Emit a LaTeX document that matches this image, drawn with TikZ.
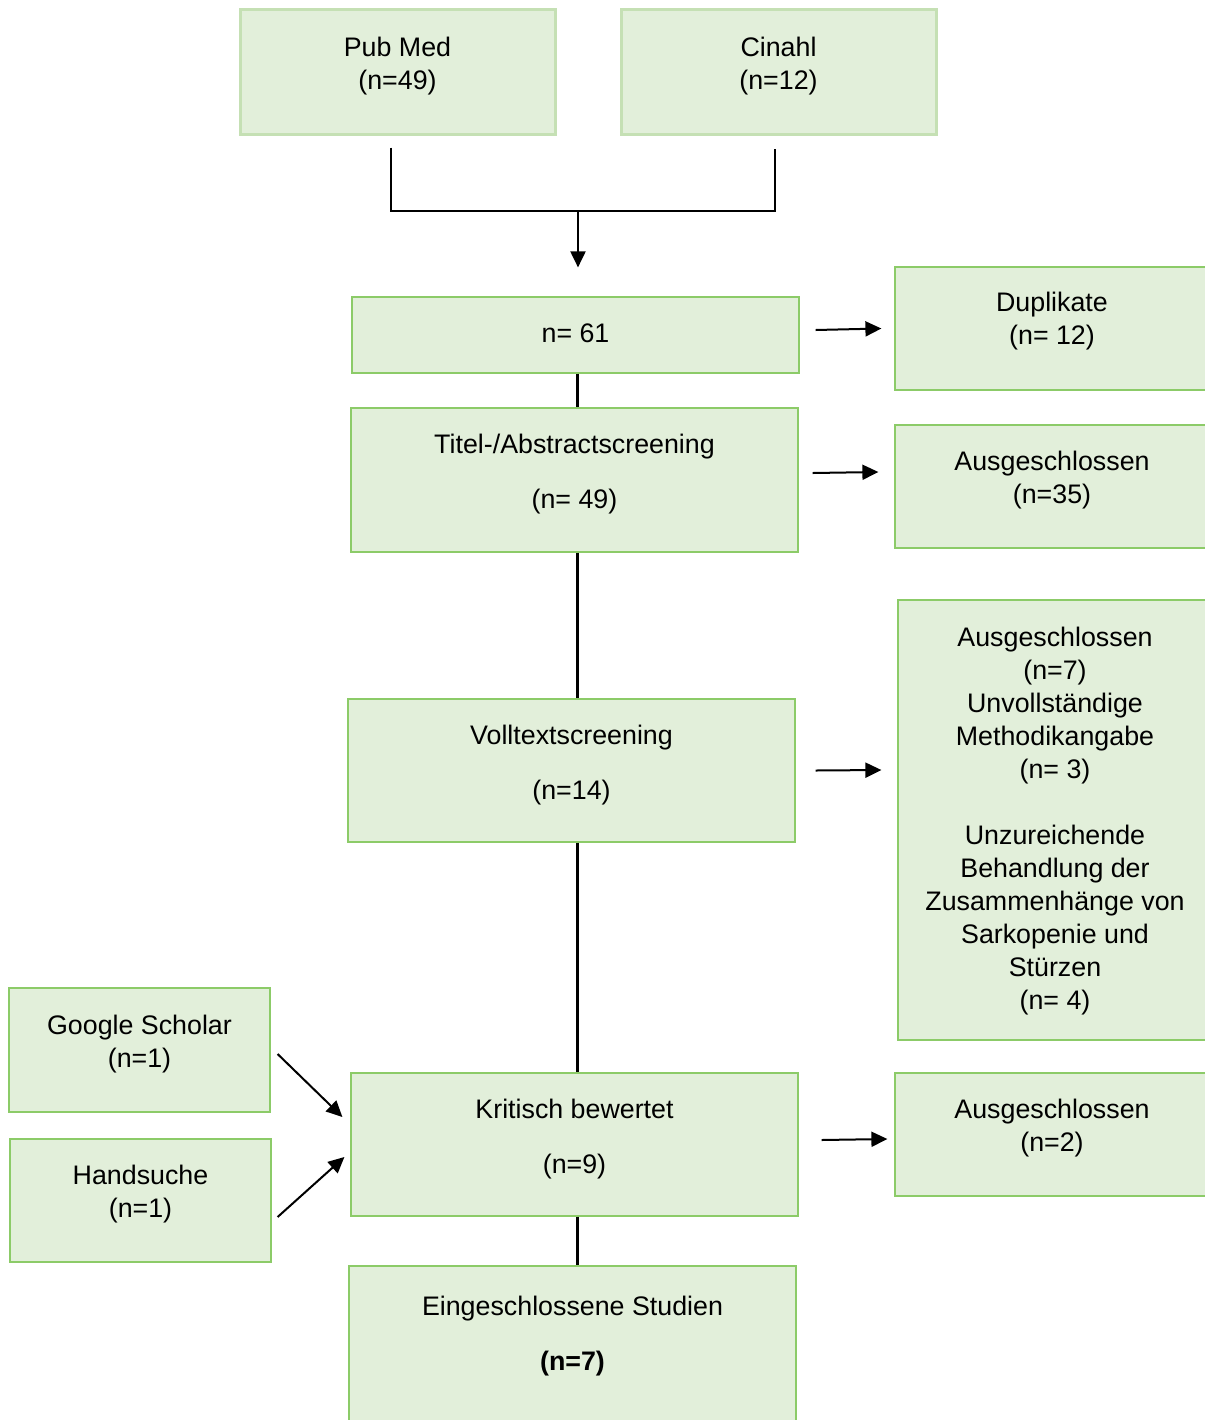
\documentclass[tikz,border=0pt]{standalone}
\usepackage{fontspec}
\setmainfont{Liberation Sans}
\usetikzlibrary{arrows.meta}
\definecolor{boxfill}{HTML}{E2EFDA}
\definecolor{boxline}{HTML}{8CCB68}
\definecolor{boxpale}{HTML}{C5E0B4}
\begin{document}
\begin{tikzpicture}[x=0.5pt,y=-0.5pt]
				\tikzstyle{every node}=[font=\fontsize{13.4}{16.5}\selectfont]
				\tikzstyle{box}=[draw=boxline,fill=boxfill,line width=0.6pt,rectangle,inner sep=0pt]
				\tikzstyle{dbbox}=[box,draw=boxpale,line width=1.5pt]
				\tikzstyle{txt}=[align=center,inner sep=0pt]
				\tikzstyle{link}=[line width=1pt]
				\tikzstyle{stem}=[line width=1.75pt]
				\tikzstyle{arr}=[line width=1pt,-{Triangle[length=8pt,width=7.5pt]}]
				\useasboundingbox (0,0) rectangle (1205,1420);
				\clip (0,0) rectangle (1205,1420);
				\node[dbbox,minimum width=157.5pt,minimum height=62.5pt,label={[txt,yshift=2.5pt]center:{Pub Med\\(n=49)}}] (pubmed) at (397.5,71.5) {};
				\node[dbbox,minimum width=157.5pt,minimum height=62.5pt,label={[txt,yshift=2.5pt]center:{Cinahl\\(n=12)}}] (cinahl) at (778.5,71.5) {};
				\node[box,minimum width=223.5pt,minimum height=38pt,label={[txt,yshift=0.75pt]center:{n= 61}}] (n61) at (575.5,335) {};
				\node[box,minimum width=157pt,minimum height=61.5pt,label={[txt,yshift=3.5pt]center:{Duplikate\\(n= 12)}}] (dupl) at (1052,328.5) {};
				\node[box,minimum width=223.5pt,minimum height=72pt,label={[txt,yshift=2.75pt]center:{Titel-/Abstractscreening\\[11pt](n= 49)}}] (titel) at (574.5,480) {};
				\node[box,minimum width=157pt,minimum height=61.5pt,label={[txt,yshift=3pt]center:{Ausgeschlossen\\(n=35)}}] (aus1) at (1052,486.5) {};
				\node[box,minimum width=223.5pt,minimum height=71.5pt,label={[txt,yshift=2.75pt]center:{Volltextscreening\\[11pt](n=14)}}] (volltext) at (571.5,770.5) {};
				\node[box,minimum width=157pt,minimum height=220pt,label={[txt,yshift=-0.5pt]center:{Ausgeschlossen\\(n=7)\\Unvollständige\\Methodikangabe\\(n= 3)\\[16.5pt]Unzureichende\\Behandlung der\\Zusammenhänge von\\Sarkopenie und\\Stürzen\\(n= 4)}}] (aus2) at (1055,820) {};
				\node[box,minimum width=130.5pt,minimum height=62pt,label={[txt,yshift=3pt]center:{Google Scholar\\(n=1)}}] (google) at (139.5,1050) {};
				\node[box,minimum width=130.5pt,minimum height=61.5pt,label={[txt,yshift=3pt]center:{Handsuche\\(n=1)}}] (hand) at (140.5,1200.5) {};
				\node[box,minimum width=223.5pt,minimum height=71.5pt,label={[txt,yshift=2.5pt]center:{Kritisch bewertet\\[11pt](n=9)}}] (kritisch) at (574.5,1144.5) {};
				\node[box,minimum width=157pt,minimum height=61.5pt,label={[txt,yshift=3pt]center:{Ausgeschlossen\\(n=2)}}] (aus3) at (1052,1134.5) {};
				\node[box,minimum width=223.5pt,minimum height=80pt,label={[txt,yshift=4.75pt]center:{Eingeschlossene Studien\\[11pt]\textbf{(n=7)}}}] (einge) at (572.5,1346) {};
				\coordinate (join) at (578,211);
				\coordinate (spine) at (577.5,0);
				\draw[link] ([xshift=-3.25pt,yshift=-6pt]pubmed.south) |- (join) -| ([xshift=-1.75pt,yshift=-6.5pt]cinahl.south);
				\draw[arr,shorten >=14.5pt] (join) -- (join |- n61.north);
				\draw[stem] (n61.south -| spine) -- (titel.north -| spine);
				\draw[stem] (titel.south -| spine) -- (volltext.north -| spine);
				\draw[stem] (volltext.south -| spine) -- (kritisch.north -| spine);
				\draw[stem] (kritisch.south -| spine) -- (einge.north -| spine);
				\draw[arr] ([xshift=8pt,yshift=2.5pt]n61.east) -- ([xshift=-6.5pt]dupl.west);
				\draw[arr] ([xshift=7pt,yshift=3.5pt]titel.east) -- ([xshift=-8pt,yshift=7.25pt]aus1.west);
				\draw[arr] ([xshift=10pt]volltext.east) -- ([xshift=-8pt,yshift=25pt]aus2.west);
				\draw[arr] ([xshift=11.5pt,yshift=2.25pt]kritisch.east) -- ([xshift=-3.5pt,yshift=-2.25pt]aus3.west);
				\draw[arr] ([xshift=3.5pt,yshift=-2pt]google.east) -- ([xshift=-4pt,yshift=13.75pt]kritisch.west);
				\draw[arr] ([xshift=3pt,yshift=-8.25pt]hand.east) -- ([xshift=-3pt,yshift=-6.25pt]kritisch.west);
\end{tikzpicture}
\end{document}
